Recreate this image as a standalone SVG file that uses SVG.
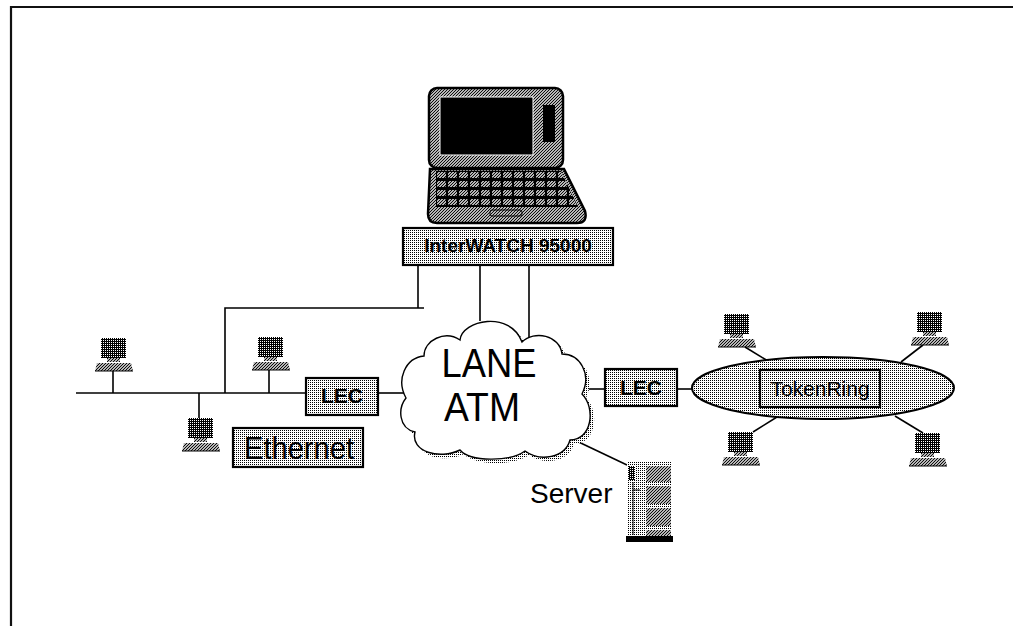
<svg xmlns="http://www.w3.org/2000/svg" width="1013" height="626" viewBox="0 0 1013 626">
  <defs>
    <!-- light stipple used for boxes, ring and cloud shadow -->
    <pattern id="dots" width="2" height="2" patternUnits="userSpaceOnUse">
      <rect width="2" height="2" fill="#fff"/>
      <rect width="1" height="1" fill="#000"/>
    </pattern>
    <!-- dense stipple for monitors -->
    <pattern id="dark" width="2" height="2" patternUnits="userSpaceOnUse">
      <rect width="2" height="2" fill="#000"/>
      <rect width="1" height="1" fill="#fff"/>
    </pattern>
    <!-- diagonal hatching -->
    <pattern id="hatch" width="3" height="3" patternUnits="userSpaceOnUse">
      <rect width="3" height="3" fill="#fff"/>
      <path d="M-1,1 L1,-1 M0,3 L3,0 M2,4 L4,2" stroke="#000" stroke-width="1.1"/>
    </pattern>
    <!-- keyboard keys -->
    <pattern id="keys" x="436" y="171" width="11" height="9" patternUnits="userSpaceOnUse">
      <rect width="11" height="9" fill="#000"/>
      <rect x="1" y="1" width="9" height="6" rx="1.5" fill="url(#hatch)"/>
    </pattern>
    <!-- workstation icon -->
    <symbol id="pc" viewBox="0 0 38 34" width="38" height="34">
      <rect x="6" y="0" width="25" height="20" fill="url(#dark)"/>
      <rect x="12" y="20" width="13" height="4" fill="url(#hatch)"/>
      <path d="M2,25 L36,25 L38,33 L0,33 Z" fill="url(#hatch)"/>
      <line x1="0" y1="33" x2="38" y2="33" stroke="#000" stroke-width="1"/>
    </symbol>
  </defs>
  <style>
    .ln { stroke: #000; stroke-width: 1.6; fill: none; }
    .box { fill: url(#dots); stroke: #000; stroke-width: 2.2; }
    .lbl { font-family: "Liberation Sans", Arial, sans-serif; fill: #000; }
    .bold { font-weight: bold; }
  </style>

  <!-- frame -->
  <g id="frame">
    <path d="M11,626 L11,7 L1013,7" fill="none" stroke="#111" stroke-width="2.2"/>
  </g>

  <!-- connectors -->
  <g id="connectors">
    <!-- ethernet bus -->
    <line class="ln" x1="76" y1="393" x2="306" y2="393"/>
    <line class="ln" x1="378" y1="393" x2="405" y2="393"/>
    <line class="ln" x1="113" y1="371" x2="113" y2="393"/>
    <line class="ln" x1="269" y1="370" x2="269" y2="393"/>
    <line class="ln" x1="199" y1="393" x2="199" y2="418"/>
    <!-- monitor probes -->
    <polyline class="ln" points="225,393 225,308 424,308"/>
    <line class="ln" x1="418" y1="265" x2="418" y2="308"/>
    <line class="ln" x1="480" y1="265" x2="480" y2="321"/>
    <line class="ln" x1="529" y1="265" x2="529" y2="345"/>
    <!-- right side -->
    <line class="ln" x1="580" y1="389" x2="605" y2="389"/>
    <line class="ln" x1="677" y1="389" x2="693" y2="389"/>
    <line class="ln" x1="566" y1="436" x2="627" y2="465"/>
    <!-- ring stations -->
    <line class="ln" x1="745" y1="347" x2="768" y2="361"/>
    <line class="ln" x1="923" y1="345" x2="901" y2="362"/>
    <line class="ln" x1="777" y1="417" x2="753" y2="432"/>
    <line class="ln" x1="895" y1="416" x2="923" y2="433"/>
  </g>

  <!-- monitoring laptop -->
  <g id="laptop">
    <rect x="429" y="88" width="134" height="80" rx="8" fill="url(#hatch)" stroke="#000" stroke-width="2.5"/>
    <rect x="440" y="97" width="93" height="58" fill="#000" stroke="#fff" stroke-width="1"/>
    <rect x="543" y="105" width="12" height="37" fill="#000"/>
    <path d="M430,169 L564,169 L585,211 Q588,223 577,223 L437,223 Q428,223 428,214 Z" fill="url(#hatch)" stroke="#000" stroke-width="2.5"/>
    <path d="M436,171 L561,171 L578,207 L436,207 Z" fill="url(#keys)"/>
    <rect x="490" y="210" width="32" height="6" rx="2" fill="url(#hatch)" stroke="#000" stroke-width="1"/>
  </g>

  <g id="interwatch">
    <rect class="box" x="403" y="228" width="210" height="37"/>
    <text class="lbl bold" x="508" y="252" font-size="19" text-anchor="middle">InterWATCH 95000</text>
  </g>

  <!-- LANE / ATM cloud -->
  <g id="cloud">
    <path transform="translate(4,4)" fill="url(#dots)" d="M406,398 C396,380 405,358 424,356 C424,340 445,330 460,340 C462,320 510,310 522,342 C534,330 560,335 562,354 C580,354 592,374 582,394 C596,408 592,440 570,440 C565,458 540,462 525,451 C510,462 470,462 460,450 C440,460 410,452 415,432 C398,428 398,408 406,398 Z"/>
    <path fill="#fff" stroke="#000" stroke-width="1.4" d="M406,398 C396,380 405,358 424,356 C424,340 445,330 460,340 C462,320 510,310 522,342 C534,330 560,335 562,354 C580,354 592,374 582,394 C596,408 592,440 570,440 C565,458 540,462 525,451 C510,462 470,462 460,450 C440,460 410,452 415,432 C398,428 398,408 406,398 Z"/>
    <text class="lbl" x="489" y="377" font-size="41" text-anchor="middle" textLength="95" lengthAdjust="spacingAndGlyphs">LANE</text>
    <text class="lbl" x="482" y="421" font-size="41" text-anchor="middle" textLength="76" lengthAdjust="spacingAndGlyphs">ATM</text>
  </g>

  <g id="lec-left">
    <rect class="box" x="306" y="378" width="72" height="37"/>
    <text class="lbl bold" x="342" y="403" font-size="21" text-anchor="middle">LEC</text>
  </g>

  <g id="lec-right">
    <rect class="box" x="605" y="369" width="72" height="37"/>
    <text class="lbl bold" x="641" y="395" font-size="21" text-anchor="middle">LEC</text>
  </g>

  <g id="ethernet">
    <rect class="box" x="233" y="428" width="130" height="39"/>
    <text class="lbl" x="299" y="459" font-size="32" text-anchor="middle" textLength="110" lengthAdjust="spacingAndGlyphs">Ethernet</text>
  </g>

  <g id="tokenring">
    <ellipse cx="823" cy="388" rx="131" ry="31" fill="url(#dots)" stroke="#000" stroke-width="2"/>
    <rect class="box" x="760" y="370" width="120" height="37"/>
    <text class="lbl" x="820" y="396" font-size="21" text-anchor="middle">TokenRing</text>
  </g>

  <!-- workstations -->
  <g id="pc-eth-1"><use href="#pc" x="95" y="338"/></g>
  <g id="pc-eth-2"><use href="#pc" x="252" y="337"/></g>
  <g id="pc-eth-3"><use href="#pc" x="182" y="418"/></g>
  <g id="pc-tr-1"><use href="#pc" x="718" y="314"/></g>
  <g id="pc-tr-2"><use href="#pc" x="911" y="312"/></g>
  <g id="pc-tr-3"><use href="#pc" x="722" y="432"/></g>
  <g id="pc-tr-4"><use href="#pc" x="909" y="433"/></g>

  <g id="server">
    <text class="lbl" x="530" y="503" font-size="28">Server</text>
    <rect x="627" y="462" width="45" height="80" fill="url(#dots)"/>
    <rect x="646" y="466" width="25" height="16" fill="url(#hatch)"/>
    <rect x="646" y="486" width="25" height="18" fill="url(#hatch)"/>
    <rect x="646" y="508" width="25" height="18" fill="url(#hatch)"/>
    <rect x="646" y="530" width="25" height="6" fill="url(#hatch)"/>
    <rect x="629" y="466" width="6" height="14" fill="url(#dark)"/>
    <line x1="633" y1="482" x2="633" y2="535" stroke="#000" stroke-width="1"/>
    <line x1="633" y1="490" x2="640" y2="490" stroke="#000" stroke-width="1"/>
    <rect x="626" y="536" width="47" height="6" fill="#000"/>
  </g>
</svg>
